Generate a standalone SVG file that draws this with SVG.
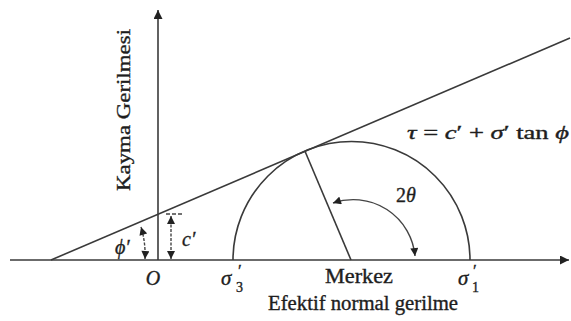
<svg xmlns="http://www.w3.org/2000/svg" width="571" height="321" viewBox="0 0 571 321">
<style>
.ln{stroke:#3a3a3a;stroke-width:1.6;fill:none}
.sm{stroke:#444;stroke-width:1.4;fill:none}
.t{font-family:"Liberation Serif","Times New Roman",serif;fill:#1e1e1e;stroke:#1e1e1e;stroke-width:0.35}
.i{font-style:italic}
</style>
<defs>
<marker id="ah" viewBox="0 0 10 10" refX="10" refY="5" markerWidth="9" markerHeight="8" orient="auto-start-reverse" markerUnits="userSpaceOnUse">
<path d="M0,0 L10,5 L0,10 z" fill="#222"/>
</marker>
<marker id="ax" viewBox="0 0 10 10" refX="10" refY="5" markerWidth="9" markerHeight="9" orient="auto" markerUnits="userSpaceOnUse">
<path d="M0,0 L10,5 L0,10 z" fill="#222"/>
</marker>
</defs>
<g id="connectors">
<line id="x-axis" class="ln" x1="10" y1="260" x2="569" y2="260" marker-end="url(#ax)"/>
<line id="y-axis" class="ln" x1="158" y1="260" x2="158" y2="10" marker-end="url(#ax)"/>
<line id="failure-line" class="ln" x1="51" y1="260" x2="570" y2="38"/>
<path id="mohr-circle" class="ln" d="M233,260 A118.5,118.5 0 0 1 470,260"/>
<line id="radius" class="ln" x1="305" y1="151.3" x2="351" y2="260"/>
<path id="arc-2theta" class="sm" d="M333,203 A62,62 0 0 1 415,256" marker-start="url(#ah)" marker-end="url(#ah)"/>
<path id="arrow-phi" class="sm" stroke-dasharray="3 1.5" d="M145,259 A94,94 0 0 0 141,227" marker-start="url(#ah)" marker-end="url(#ah)"/>
<line id="arrow-c" class="sm" stroke-dasharray="3 1.5" x1="171" y1="259" x2="171" y2="216" marker-start="url(#ah)" marker-end="url(#ah)"/>
<line id="tick-c" class="sm" stroke-dasharray="4 2" x1="166" y1="214" x2="182" y2="214"/>
</g>
<g id="label-y"><text class="t" font-size="19" text-anchor="middle" textLength="162" lengthAdjust="spacingAndGlyphs" transform="translate(130,110) rotate(-90)">Kayma Gerilmesi</text></g>
<g id="label-eq"><text class="t" font-size="18" x="407" y="139" textLength="162" lengthAdjust="spacingAndGlyphs"><tspan class="i">τ</tspan>  = <tspan class="i">c</tspan>′ + <tspan class="i">σ</tspan>′ tan <tspan class="i">ϕ</tspan></text></g>
<g id="label-phi"><text class="t i" font-size="20" x="115" y="254">ϕ′</text></g>
<g id="label-c"><text class="t i" font-size="20" x="182" y="246">c′</text></g>
<g id="label-O"><text class="t i" font-size="20" x="153" y="285" text-anchor="middle">O</text></g>
<g id="label-s3"><text class="t i" font-size="21" x="221" y="285">σ</text><text class="t" font-size="14" x="236" y="292">3</text><text class="t" font-size="17" x="238" y="276">′</text></g>
<g id="label-merkez"><text class="t" font-size="20" x="325" y="283" textLength="68" lengthAdjust="spacingAndGlyphs">Merkez</text></g>
<g id="label-s1"><text class="t i" font-size="21" x="458" y="285">σ</text><text class="t" font-size="14" x="472" y="292">1</text><text class="t" font-size="17" x="473" y="276">′</text></g>
<g id="label-x"><text class="t" font-size="20" x="268" y="310" textLength="190" lengthAdjust="spacingAndGlyphs">Efektif normal gerilme</text></g>
<g id="label-2theta"><text class="t" font-size="20" x="396" y="202">2<tspan class="i">θ</tspan></text></g>
</svg>
